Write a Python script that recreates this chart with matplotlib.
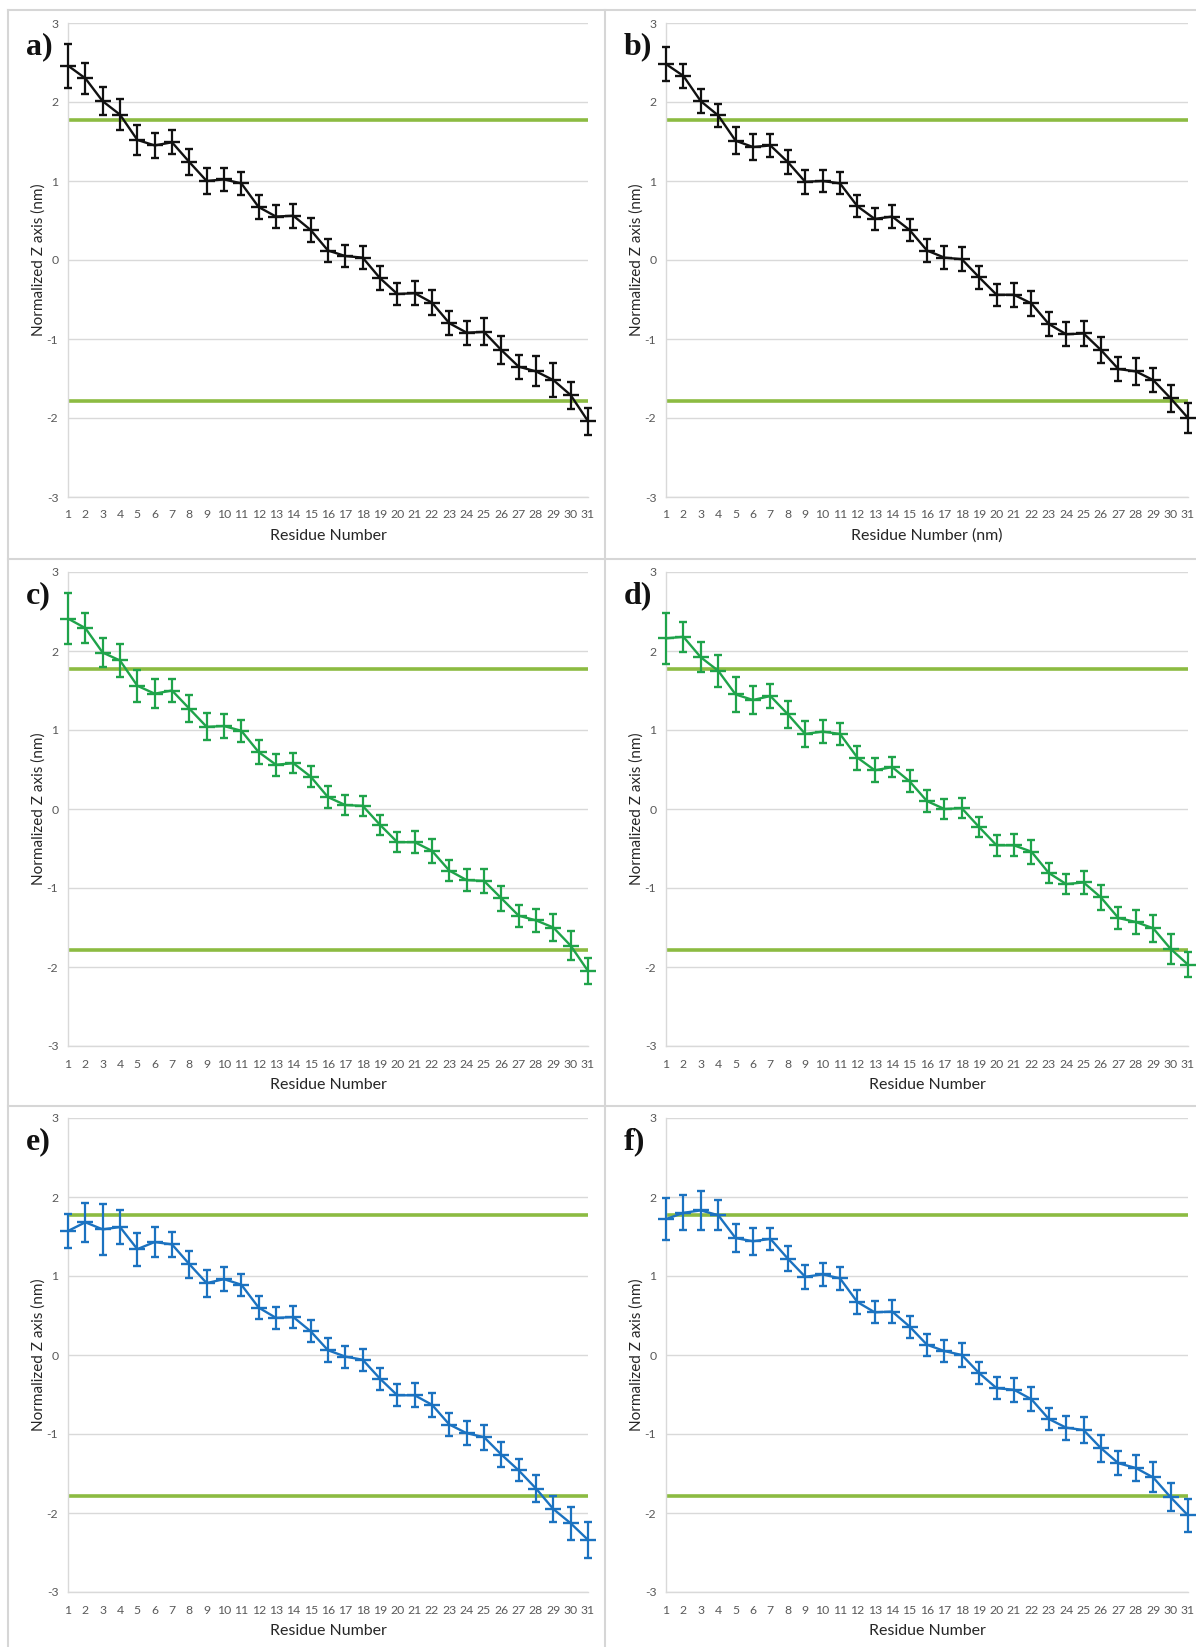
import matplotlib
matplotlib.use("Agg")
import matplotlib.pyplot as plt
from matplotlib.lines import Line2D

plt.rcParams['font.family'] = ['Lato', 'DejaVu Sans']
plt.rcParams['axes.unicode_minus'] = False

# ---------------- data ----------------
residues = list(range(1, 32))

a_vals = [2.46, 2.30, 2.01, 1.84, 1.52, 1.45, 1.49, 1.24, 1.00, 1.02, 0.97, 0.67, 0.55, 0.56, 0.38, 0.12,
          0.05, 0.03, -0.23, -0.43, -0.42, -0.54, -0.80, -0.92, -0.91, -1.14, -1.35, -1.41, -1.52, -1.71, -2.04]
a_err = [0.28, 0.20, 0.18, 0.20, 0.19, 0.16, 0.15, 0.17, 0.16, 0.15, 0.15, 0.15, 0.14, 0.15, 0.15, 0.14,
         0.14, 0.15, 0.15, 0.14, 0.15, 0.16, 0.15, 0.15, 0.17, 0.18, 0.15, 0.19, 0.21, 0.17, 0.17]

b_vals = [2.48, 2.33, 2.01, 1.83, 1.51, 1.43, 1.45, 1.24, 0.99, 1.00, 0.97, 0.68, 0.52, 0.55, 0.38, 0.12,
          0.03, 0.01, -0.22, -0.44, -0.44, -0.55, -0.81, -0.94, -0.93, -1.14, -1.38, -1.41, -1.52, -1.75, -2.00]
b_err = [0.21, 0.15, 0.15, 0.15, 0.17, 0.16, 0.14, 0.15, 0.15, 0.14, 0.14, 0.14, 0.14, 0.14, 0.14, 0.14,
         0.15, 0.15, 0.15, 0.14, 0.15, 0.16, 0.15, 0.15, 0.16, 0.16, 0.15, 0.17, 0.15, 0.17, 0.19]

c_vals = [2.41, 2.29, 1.98, 1.88, 1.56, 1.46, 1.50, 1.27, 1.04, 1.05, 0.99, 0.72, 0.56, 0.58, 0.41, 0.15,
          0.05, 0.04, -0.20, -0.42, -0.42, -0.53, -0.78, -0.90, -0.91, -1.13, -1.35, -1.41, -1.50, -1.73, -2.05]
c_err = [0.32, 0.19, 0.18, 0.21, 0.20, 0.18, 0.15, 0.17, 0.17, 0.15, 0.14, 0.15, 0.14, 0.13, 0.13, 0.14,
         0.13, 0.13, 0.13, 0.13, 0.14, 0.15, 0.13, 0.14, 0.15, 0.16, 0.14, 0.15, 0.17, 0.18, 0.16]

d_vals = [2.16, 2.18, 1.92, 1.75, 1.45, 1.38, 1.43, 1.20, 0.95, 0.98, 0.95, 0.65, 0.49, 0.53, 0.35, 0.10,
          0.00, 0.01, -0.23, -0.46, -0.46, -0.54, -0.81, -0.95, -0.93, -1.12, -1.38, -1.43, -1.51, -1.77, -1.97]
d_err = [0.32, 0.19, 0.19, 0.20, 0.22, 0.18, 0.15, 0.17, 0.17, 0.15, 0.14, 0.15, 0.15, 0.13, 0.14, 0.14,
         0.13, 0.13, 0.13, 0.13, 0.14, 0.15, 0.13, 0.13, 0.15, 0.16, 0.14, 0.15, 0.17, 0.19, 0.16]

e_vals = [1.57, 1.68, 1.59, 1.62, 1.34, 1.43, 1.40, 1.15, 0.91, 0.96, 0.89, 0.60, 0.47, 0.48, 0.30, 0.06,
          -0.02, -0.06, -0.30, -0.51, -0.51, -0.63, -0.88, -0.99, -1.04, -1.26, -1.46, -1.69, -1.95, -2.13, -2.34]
e_err = [0.21, 0.25, 0.32, 0.21, 0.21, 0.19, 0.16, 0.17, 0.17, 0.15, 0.14, 0.15, 0.14, 0.14, 0.14, 0.15,
         0.14, 0.14, 0.14, 0.14, 0.15, 0.15, 0.14, 0.15, 0.16, 0.16, 0.14, 0.17, 0.16, 0.21, 0.23]

f_vals = [1.72, 1.80, 1.83, 1.77, 1.48, 1.44, 1.47, 1.22, 0.99, 1.02, 0.97, 0.67, 0.54, 0.55, 0.36, 0.13,
          0.05, 0.00, -0.23, -0.42, -0.44, -0.56, -0.81, -0.92, -0.95, -1.18, -1.37, -1.43, -1.55, -1.80, -2.03]
f_err = [0.27, 0.22, 0.25, 0.19, 0.18, 0.17, 0.14, 0.16, 0.15, 0.15, 0.15, 0.15, 0.14, 0.14, 0.14, 0.14,
         0.14, 0.15, 0.14, 0.14, 0.15, 0.15, 0.14, 0.15, 0.16, 0.17, 0.15, 0.17, 0.19, 0.18, 0.21]

membrane_upper = 1.77
membrane_lower = -1.78

panel_labels = ["a)", "b)", "c)", "d)", "e)", "f)"]
x_labels = ["Residue Number", "Residue Number (nm)", "Residue Number",
            "Residue Number", "Residue Number", "Residue Number"]
y_label = "Normalized Z axis (nm)"
y_ticks = [-3, -2, -1, 0, 1, 2, 3]

# ---------------- styling ----------------
BLACK = "#111111"
GREEN = "#1fa34a"
BLUE = "#1b72c0"
MEMB = "#8cbb42"
GRID = "#d9d9d9"
TICKC = "#595959"

series = [(a_vals, a_err, BLACK), (b_vals, b_err, BLACK),
          (c_vals, c_err, GREEN), (d_vals, d_err, GREEN),
          (e_vals, e_err, BLUE), (f_vals, f_err, BLUE)]

W, H = 1196, 1647
fig = plt.figure(figsize=(W / 100, H / 100), dpi=100)

col_left = [68, 666]
col_width = [520, 522]
row_top = [23, 572, 1118]
row_h = 474

# panel frame lines (table-like borders)
frame_kw = dict(color="#d6d6d6", lw=1.5, transform=fig.transFigure)
def fx(x): return x / W
def fy(y): return 1 - y / H
fig.add_artist(Line2D([fx(8), fx(1196)], [fy(10), fy(10)], **frame_kw))
fig.add_artist(Line2D([fx(8), fx(8)], [fy(10), fy(1647)], **frame_kw))
fig.add_artist(Line2D([fx(605), fx(605)], [fy(10), fy(1647)], **frame_kw))
fig.add_artist(Line2D([fx(8), fx(1196)], [fy(559), fy(559)], **frame_kw))
fig.add_artist(Line2D([fx(8), fx(1196)], [fy(1106), fy(1106)], **frame_kw))

for i, (vals, err, color) in enumerate(series):
    r, c = divmod(i, 2)
    left = col_left[c] / W
    width = col_width[c] / W
    bottom = 1 - (row_top[r] + row_h) / H
    height = row_h / H
    ax = fig.add_axes([left, bottom, width, height])

    ax.set_xlim(1, 31)
    ax.set_ylim(-3, 3)
    ax.set_yticks(y_ticks)
    ax.set_xticks(residues)
    ax.set_xticklabels([str(v) for v in residues])
    ax.grid(axis="y", color=GRID, lw=1.0, zorder=0)
    ax.set_axisbelow(True)
    for s in ["top", "right"]:
        ax.spines[s].set_visible(False)
    for s in ["left", "bottom"]:
        ax.spines[s].set_color(GRID)
        ax.spines[s].set_linewidth(1.0)
    ax.tick_params(axis="both", length=0, labelsize=8.8, labelcolor=TICKC)
    ax.tick_params(axis="x", pad=9)
    ax.tick_params(axis="y", pad=7)

    ax.axhline(membrane_upper, color=MEMB, lw=2.6, zorder=2)
    ax.axhline(membrane_lower, color=MEMB, lw=2.6, zorder=2)

    cont = ax.errorbar(residues, vals, yerr=err, color=color, lw=1.7,
                       elinewidth=1.6, capsize=2.8, capthick=1.6,
                       marker="_", markersize=12, markeredgewidth=1.7, zorder=3)
    for art in [cont.lines[0]] + list(cont.lines[1]) + list(cont.lines[2]):
        art.set_clip_on(False)

    ax.set_xlabel(x_labels[i], fontsize=11.5, color="#262626", labelpad=6)
    ax.set_ylabel(y_label, fontsize=11, color="#262626", labelpad=1)

    fig.text((col_left[c] - 42) / W, 1 - (row_top[r] + 24) / H, panel_labels[i],
             fontsize=23, fontweight="bold", family=["Liberation Serif", "DejaVu Serif"],
             ha="left", va="center", color="#111111")

fig.savefig("out.png", dpi=100, facecolor="white")
